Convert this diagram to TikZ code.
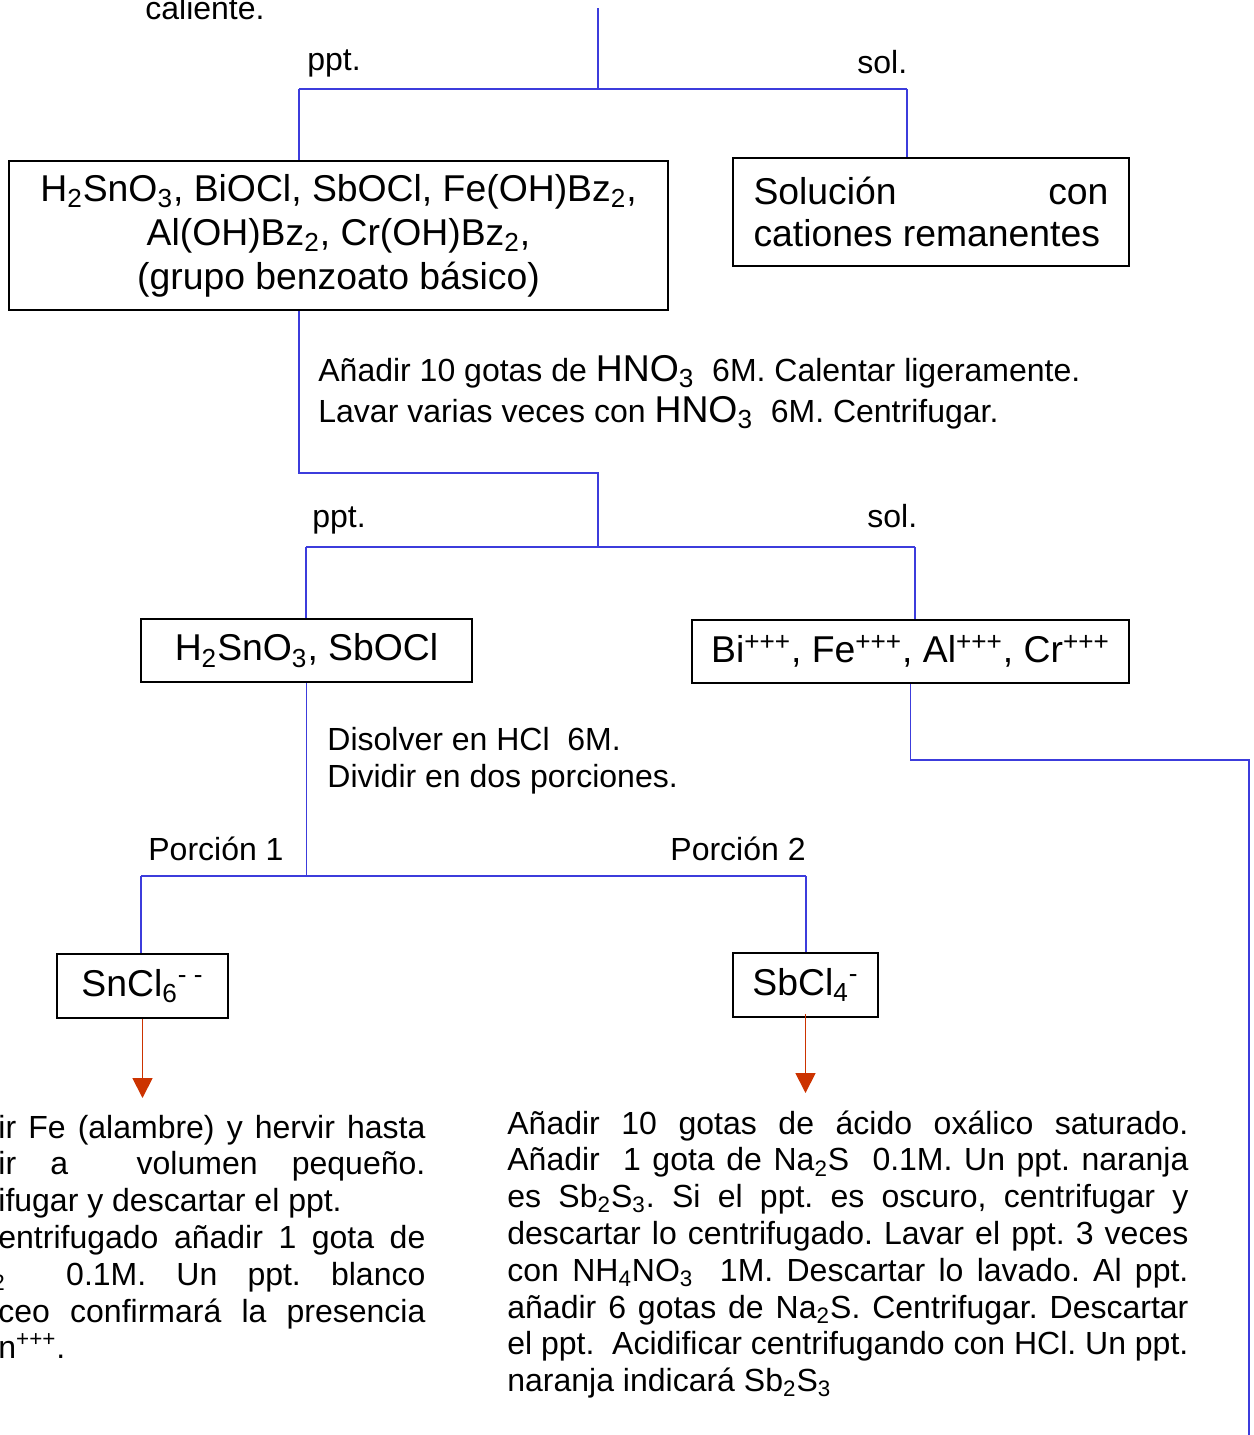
\documentclass[tikz,border=0pt]{standalone}
\usepackage{fontspec}
\setmainfont{Liberation Sans}
\usetikzlibrary{arrows.meta}

\definecolor{lineblue}{RGB}{60,60,220}
\definecolor{arrowred}{RGB}{204,51,0}

\frenchspacing
\tolerance=10000
\hyphenpenalty=10000

\begin{document}
\begin{tikzpicture}[x=0.5pt, y=-0.5pt,
  font=\fontsize{16}{18.4}\selectfont,
  link/.style={draw=lineblue, line width=0.9pt},
  flow/.style={draw=arrowred, line width=0.9pt, -{Triangle[width=10pt,length=10pt]}},
  box/.style={draw, line width=0.9pt, inner sep=0pt, font=\fontsize{18.67}{22}\selectfont},
  note/.style={anchor=base west, inner sep=0pt}]
\useasboundingbox (0,0) rectangle (1253,1435);

% first split
\coordinate (in) at (598,8);
\coordinate (fork1) at (598,89);
\coordinate (fork1l) at (299,89);
\coordinate (fork1r) at (907,89);
\node[note] (caliente) at (145,19) {caliente.};
\node[note] (ppt1) at (307,70) {ppt.};
\node[note] (sol1) at (857,73) {sol.};
\node[box, minimum width=329.5pt, minimum height=74.5pt, align=center] (benzo) at (338.5,235.5)
  {H\textsubscript{2}SnO\textsubscript{3}, BiOCl, SbOCl, Fe(OH)Bz\textsubscript{2},\\
   Al(OH)Bz\textsubscript{2}, Cr(OH)Bz\textsubscript{2},\\
   (grupo benzoato básico)};
\node[box, minimum width=198pt, minimum height=54pt, text width=177.5pt, align=justify,
  font=\fontsize{18.67}{21}\selectfont] (rest) at (931,212) {Solución con\linebreak cationes remanentes};
\draw[link] (in) -- (fork1);
\draw[link] (fork1l) -- (fork1r);
\draw[link] (fork1l) -- (fork1l |- benzo.north);
\draw[link] (fork1r) -- (fork1r |- rest.north);

% nitric acid wash
\node[note, align=left, font=\fontsize{16}{20.5}\selectfont] (wash) at (318,422)
  {Añadir 10 gotas de {\fontsize{18.67}{20.5}\selectfont HNO\textsubscript{3}}~ 6M. Calentar ligeramente.\\
   Lavar varias veces con {\fontsize{18.67}{20.5}\selectfont HNO\textsubscript{3}}~ 6M. Centrifugar.};
\coordinate (elbow2) at (598,473);
\coordinate (fork2) at (598,547);
\coordinate (fork2l) at (306,547);
\coordinate (fork2r) at (915,547);
\draw[link] (fork1l |- benzo.south) |- (elbow2) -- (fork2);
\draw[link] (fork2l) -- (fork2r);
\node[note] (ppt2) at (312,527) {ppt.};
\node[note] (sol2) at (867,527) {sol.};
\node[box, minimum width=165.5pt, minimum height=31.5pt] (snsb) at (306.5,650.5)
  {H\textsubscript{2}SnO\textsubscript{3}, SbOCl};
\node[box, minimum width=218.5pt, minimum height=31.5pt] (ions) at (910.5,651.5)
  {Bi\textsuperscript{+++}, Fe\textsuperscript{+++}, Al\textsuperscript{+++}, Cr\textsuperscript{+++}};
\draw[link] (fork2l) -- (fork2l |- snsb.north);
\draw[link] (fork2r) -- (fork2r |- ions.north);

% HCl, two portions
\node[note, align=left] (dissolve) at (327,787) {Disolver en HCl~ 6M.\\Dividir en dos porciones.};
\coordinate (fork3) at (308,876);
\coordinate (fork3l) at (141,876);
\coordinate (fork3r) at (806,876);
\draw[link] (snsb.south) -- (snsb.south |- fork3);
\draw[link] (fork3l) -- (fork3r);
\node[note] (por1) at (148,860) {Porción 1};
\node[note] (por2) at (670,860) {Porción 2};
\node[box, minimum width=85.5pt, minimum height=32pt] (sncl) at (142.5,986)
  {SnCl\textsubscript{6}\textsuperscript{- -}};
\node[box, minimum width=72.5pt, minimum height=32pt] (sbcl) at (805.5,985)
  {SbCl\textsubscript{4}\textsuperscript{-}};
\draw[link] (fork3l) -- (fork3l |- sncl.north);
\draw[link] (fork3r) -- (fork3r |- sbcl.north);

% tests
\coordinate (snend) at (142,1098);
\coordinate (sbend) at (805,1093);
\draw[flow] (sncl.south) -- (sncl.south |- snend);
\draw[flow] ([yshift=2pt]sbcl.south) -- (sbcl.south |- sbend);
\node[note, text width=213.5pt, align=justify] (sntest) at (-2,1138)
  {ir Fe (alambre) y hervir hasta\linebreak
   ir a\ \ volumen pequeño.\linebreak
   ifugar y descartar el ppt.\\
   entrifugado añadir 1 gota de\linebreak
   \hspace*{-3pt}\textsubscript{2}\ \ 0.1M. Un ppt. blanco\linebreak
   ceo confirmará la presencia\linebreak
   n\textsuperscript{+++}.};
\node[note, text width=340.5pt, align=justify] (sbtest) at (507,1134)
  {Añadir 10 gotas de ácido oxálico saturado.\linebreak
   Añadir\ \ 1 gota de Na\textsubscript{2}S\ \ 0.1M. Un ppt. naranja\linebreak
   es Sb\textsubscript{2}S\textsubscript{3}. Si el ppt. es oscuro, centrifugar y\linebreak
   descartar lo centrifugado. Lavar el ppt. 3 veces\linebreak
   con NH\textsubscript{4}NO\textsubscript{3}\ \ 1M. Descartar lo lavado. Al ppt.\linebreak
   añadir 6 gotas de Na\textsubscript{2}S. Centrifugar. Descartar\linebreak
   el ppt.\ \ Acidificar centrifugando con HCl. Un ppt.\linebreak
   naranja indicará Sb\textsubscript{2}S\textsubscript{3}};

% remaining cations
\coordinate (turn4) at (1249,760);
\coordinate (out4) at (1249,1440);
\draw[link] (ions.south) |- (turn4) -- (out4);
\end{tikzpicture}
\end{document}
